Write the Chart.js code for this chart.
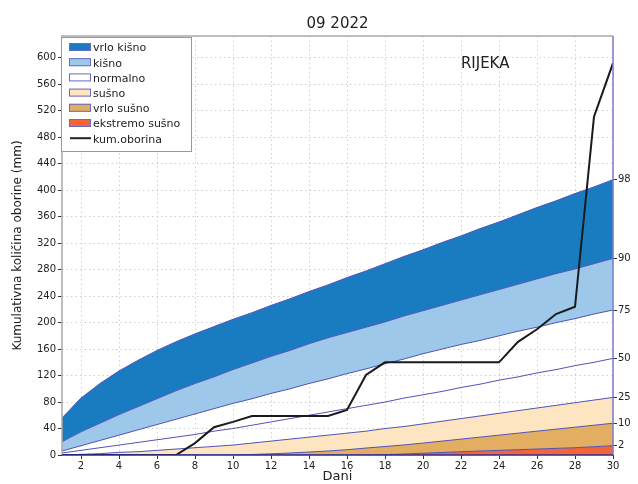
<!DOCTYPE html>
<html>
<head>
<meta charset="utf-8">
<title>Kumulativna oborina 09 2022</title>
<script src="https://cdn.jsdelivr.net/npm/chart.js@4.4.1/dist/chart.umd.min.js"></script>
<style>
  body { margin: 0; background: #fff; }
  canvas { display: block; }
</style>
</head>
<body>
<canvas id="chart" width="638" height="484"></canvas>
<script>
// days of the month
const days = [1, 2, 3, 4, 5, 6, 7, 8, 9, 10, 11, 12, 13, 14, 15, 16, 17, 18, 19, 20, 21, 22, 23, 24, 25, 26, 27, 28, 29, 30];

// percentile curves of cumulative precipitation (mm)
const p2  = [0, 0, 0, 0, 0, 0, 0, 0, 0, 0, 0, 0, 0, 0, 0, 0, 0, 0.5, 1.5, 2.7, 3.8, 4.9, 6, 7, 8, 9, 10, 11, 12.5, 14];
const p10 = [0, 0, 0, 0, 0, 0, 0, 0, 0, 0, 0.8, 1.8, 3, 4.5, 6, 8, 10.5, 12.8, 15.2, 18, 21, 24, 27, 30, 33, 36, 39, 42, 45, 48];
const p25 = [0, 1, 2, 4, 5, 7, 9, 11, 13, 15, 18, 21, 24, 27, 30, 33, 36, 40, 43, 47, 51, 55, 59, 63, 67, 71, 75, 79, 83, 87];
const p50 = [3, 7, 11, 15, 19, 23, 27, 31, 36, 40, 45, 50, 55, 60, 65, 70, 75, 80, 86, 91, 96, 102, 107, 113, 118, 124, 129, 135, 140, 146];
const p75 = [6, 14, 22, 30, 38, 46, 54, 62, 70, 78, 85, 93, 100, 108, 115, 123, 130, 138, 145, 153, 160, 167, 173, 180, 187, 193, 200, 206, 213, 219];
const p90 = [20, 35, 48, 61, 73, 85, 97, 108, 118, 129, 139, 149, 158, 168, 177, 185, 193, 201, 210, 218, 226, 234, 242, 250, 258, 266, 274, 281, 289, 297];
const p98 = [56, 86, 108, 127, 143, 158, 171, 183, 194, 205, 215, 226, 236, 247, 257, 268, 278, 289, 300, 310, 321, 331, 342, 352, 363, 374, 384, 395, 405, 416];

// measured cumulative precipitation
const cumPrecip = [0, 0, 0, 0, 0, 0, 0, 18, 42, 50, 59, 59, 59, 59, 59, 68, 121, 140, 140, 140, 140, 140, 140, 140, 171, 190, 213, 224, 511, 592];

const xTicks = [2, 4, 6, 8, 10, 12, 14, 16, 18, 20, 22, 24, 26, 28, 30];
const yTicks = [0, 40, 80, 120, 160, 200, 240, 280, 320, 360, 400, 440, 480, 520, 560, 600];
const pctLabels = ['2', '10', '25', '50', '75', '90', '98'];
const legendLabels = ['vrlo kišno', 'kišno', 'normalno', 'sušno', 'vrlo sušno', 'ekstremo sušno', 'kum.oborina'];

const EDGE = '#5252b8';
const FONT = '"DejaVu Sans", sans-serif';
const legendFills = ['#1a7cc0', '#9ec8ea', '#ffffff', '#fde5c1', '#e3ae62', '#f2653a'];

const curves = [p2, p10, p25, p50, p75, p90, p98];
const lastValues = curves.map(c => c[c.length - 1]);

function band(data, color, fill) {
  return {
    data: data,
    borderColor: EDGE,
    borderWidth: 1,
    backgroundColor: color,
    fill: fill,
    pointRadius: 0,
    tension: 0
  };
}

// frame, station name and the legend box
const extras = {
  id: 'extras',
  afterDatasetsDraw(chart) {
    const { ctx, chartArea: a } = chart;
    ctx.save();
    ctx.lineWidth = 1.5;
    ctx.strokeStyle = '#aaaaaa';
    ctx.beginPath();
    ctx.moveTo(a.left, a.bottom);
    ctx.lineTo(a.left, a.top);
    ctx.lineTo(a.right, a.top);
    ctx.stroke();
    ctx.strokeStyle = '#7c7cc8';
    ctx.beginPath();
    ctx.moveTo(a.right, a.top);
    ctx.lineTo(a.right, a.bottom);
    ctx.stroke();
    ctx.strokeStyle = '#2e2e94';
    ctx.beginPath();
    ctx.moveTo(a.left, a.bottom);
    ctx.lineTo(a.right, a.bottom);
    ctx.stroke();

    ctx.fillStyle = '#222';
    ctx.font = '15px ' + FONT;
    ctx.textAlign = 'center';
    ctx.textBaseline = 'middle';
    ctx.fillText('RIJEKA', a.left + (a.right - a.left) * 0.768, a.top + 28);

    // legend
    const bx = a.left - 1, by = a.top + 1, bw = 130, bh = 114;
    ctx.fillStyle = '#fff';
    ctx.fillRect(bx, by, bw, bh);
    ctx.lineWidth = 1;
    ctx.strokeStyle = '#999';
    ctx.strokeRect(bx + 0.5, by + 0.5, bw, bh);
    ctx.font = '11px ' + FONT;
    ctx.textAlign = 'left';
    legendLabels.forEach((label, i) => {
      const cy = by + 10 + i * 15.2;
      if (i < legendFills.length) {
        ctx.fillStyle = legendFills[i];
        ctx.fillRect(bx + 8, cy - 4, 22, 8);
        ctx.strokeStyle = '#6a6ac4';
        ctx.strokeRect(bx + 8.5, cy - 3.5, 21, 7);
      } else {
        ctx.strokeStyle = '#222';
        ctx.lineWidth = 2;
        ctx.beginPath();
        ctx.moveTo(bx + 9, cy);
        ctx.lineTo(bx + 30, cy);
        ctx.stroke();
      }
      ctx.fillStyle = '#222';
      ctx.fillText(label, bx + 32, cy + 1.5);
    });
    ctx.restore();
  }
};

const gridOpts = {
  color: '#cfcfcf',
  tickLength: 4,
  tickColor: '#333',
  tickBorderDash: [1, 0]
};
const borderOpts = { display: false, dash: [1.5, 3] };

new Chart(document.getElementById('chart'), {
  type: 'line',
  data: {
    labels: days,
    datasets: [
      band(p2, legendFills[5], 'origin'),
      band(p10, legendFills[4], '-1'),
      band(p25, legendFills[3], '-1'),
      band(p50, 'transparent', false),
      band(p75, 'transparent', false),
      band(p90, legendFills[1], '-1'),
      band(p98, legendFills[0], '-1'),
      {
        data: cumPrecip,
        borderColor: '#1a1a1a',
        borderWidth: 2,
        fill: false,
        pointRadius: 0,
        tension: 0,
        order: -1
      }
    ]
  },
  options: {
    responsive: false,
    devicePixelRatio: 1,
    animation: false,
    layout: { padding: 0 },
    plugins: {
      legend: { display: false },
      tooltip: { enabled: false },
      title: {
        display: true,
        text: '09 2022',
        fullSize: false,
        color: '#222',
        font: { family: FONT, size: 15, weight: 'normal' },
        padding: { top: 15, bottom: 3 }
      }
    },
    scales: {
      x: {
        type: 'linear',
        min: 1,
        max: 30,
        afterBuildTicks: s => { s.ticks = xTicks.map(v => ({ value: v })); },
        afterFit: s => { s.height = 29; },
        ticks: {
          autoSkip: false,
          maxRotation: 0,
          padding: 1,
          color: '#222',
          font: { family: FONT, size: 10 }
        },
        grid: gridOpts,
        border: borderOpts,
        title: {
          display: true,
          text: 'Dani',
          color: '#222',
          font: { family: FONT, size: 13 },
          padding: { top: 0, bottom: 0 }
        }
      },
      y: {
        min: 0,
        max: 633,
        afterBuildTicks: s => { s.ticks = yTicks.map(v => ({ value: v })); },
        afterFit: s => { s.width = 62; },
        ticks: {
          autoSkip: false,
          padding: 2,
          color: '#222',
          font: { family: FONT, size: 10 }
        },
        grid: gridOpts,
        border: borderOpts,
        title: {
          display: true,
          text: 'Kumulativna količina oborine (mm)',
          color: '#222',
          font: { family: FONT, size: 12 },
          padding: { top: 11, bottom: 0 }
        }
      },
      y2: {
        position: 'right',
        min: 0,
        max: 633,
        afterBuildTicks: s => { s.ticks = lastValues.map(v => ({ value: v })); },
        afterFit: s => { s.width = 25; },
        ticks: {
          autoSkip: false,
          padding: 1,
          color: '#222',
          font: { family: FONT, size: 10 },
          callback: (v, i) => pctLabels[i]
        },
        grid: {
          drawOnChartArea: false,
          tickLength: 4,
          tickColor: '#333'
        },
        border: { display: false }
      }
    }
  },
  plugins: [extras]
});
</script>
</body>
</html>
